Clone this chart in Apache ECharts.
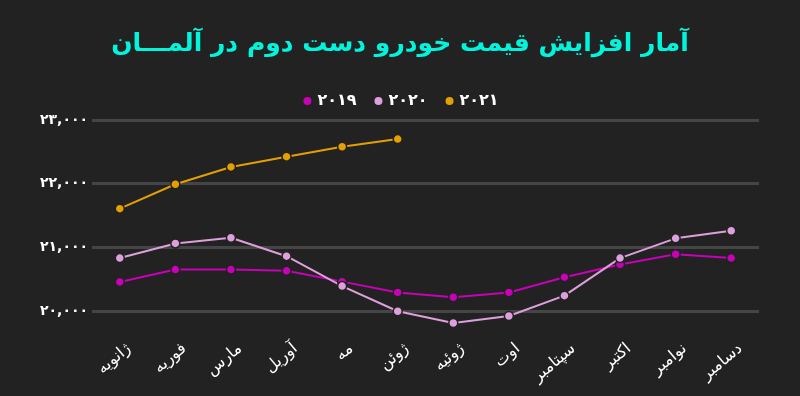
<!DOCTYPE html>
<html>
<head>
<meta charset="utf-8">
<script src="https://cdn.jsdelivr.net/npm/echarts@6/dist/echarts.min.js"></script>
<style>
html,body{margin:0;padding:0;background:#222222;}
#chart{width:800px;height:396px;}
</style>
</head>
<body>
<div id="chart"></div>
<script>
const titleText = 'آمار افزایش قیمت خودرو دست دوم در آلمـــان';
const months = ['ژانویه','فوریه','مارس','آوریل','مه','ژوئن','ژوئیه','اوت','سپتامبر','اکتبر','نوامبر','دسامبر'];
const seriesNames = ['۲۰۱۹','۲۰۲۰','۲۰۲۱'];
const values2019 = [20455,20650,20650,20630,20460,20290,20215,20290,20530,20730,20890,20830];
const values2020 = [20830,21060,21150,20860,20390,19995,19810,19920,20240,20830,21140,21260];
const values2021 = [21607,21990,22262,22424,22580,22700];
const yTickLabels = {20000:'۲۰,۰۰۰',21000:'۲۱,۰۰۰',22000:'۲۲,۰۰۰',23000:'۲۳,۰۰۰'};
const colors = ['#c800b8','#dda0dd','#e5a000'];

const font = 'DejaVu Sans';
const chart = echarts.init(document.getElementById('chart'), null, {renderer:'canvas'});

function mkSeries(name, data, color){
  return {
    name: name,
    type: 'line',
    data: data,
    symbol: 'circle',
    symbolSize: 9,
    showAllSymbol: true,
    lineStyle: {color: color, width: 2},
    itemStyle: {color: color, borderColor: '#222222', borderWidth: 1.5},
    emphasis: {disabled: true},
    animation: false
  };
}

chart.setOption({
  backgroundColor: '#222222',
  animation: false,
  color: colors,
  title: {
    text: titleText,
    left: 'center',
    top: 27,
    textStyle: {color: '#00f5dc', fontFamily: font, fontWeight: 'bold', fontSize: 25}
  },
  legend: {
    top: 88,
    left: 'center',
    icon: 'circle',
    itemWidth: 10,
    itemHeight: 10,
    itemGap: 16,
    data: seriesNames,
    textStyle: {color: '#ffffff', fontFamily: font, fontSize: 16, fontWeight: 'bold'}
  },
  grid: {left: 92, right: 41, top: 120, bottom: 66, containLabel: false},
  xAxis: {
    type: 'category',
    data: months,
    boundaryGap: true,
    axisLine: {show: false},
    axisTick: {show: false},
    axisLabel: {color: '#ffffff', fontFamily: font, fontSize: 16, lineHeight: 28, rotate: 40, margin: 6, interval: 0, verticalAlign: 'top'}
  },
  yAxis: {
    type: 'value',
    min: 19700,
    max: 23000,
    splitNumber: 3,
    axisLine: {show: false},
    axisTick: {show: false},
    axisLabel: {
      color: '#ffffff', fontFamily: font, fontSize: 14, fontWeight: 'bold',
      align: 'left', margin: 52, showMinLabel: false,
      formatter: function(v){ return yTickLabels[v] || ''; }
    },
    splitLine: {show: true, showMinLine: false, lineStyle: {color: '#454545', width: 3}}
  },
  series: [
    mkSeries(seriesNames[0], values2019, colors[0]),
    mkSeries(seriesNames[1], values2020, colors[1]),
    mkSeries(seriesNames[2], values2021, colors[2])
  ]
});
</script>
</body>
</html>
